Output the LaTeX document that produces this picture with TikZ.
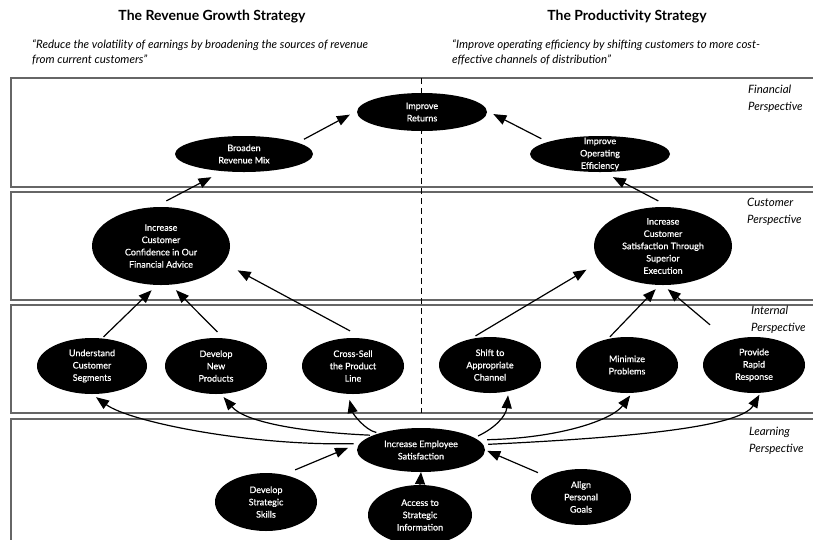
\documentclass[tikz,border=0pt]{standalone}
\usepackage{fontspec}
\setmainfont{Lato}
\newfontfamily\goalfont[FakeBold=0.6]{Lato}
\usetikzlibrary{shapes.geometric,arrows.meta}

\begin{document}
\begin{tikzpicture}[x=1pt,y=-1pt,
  goal/.style={ellipse, fill=black, text=white, align=center,
    inner xsep=0pt, inner ysep=-4pt, font=\goalfont\fontsize{9}{12.3}\selectfont},
  arr/.style={line width=1.2pt, -{Triangle[length=13pt,width=10pt]}},
  panel/.style={draw=black!60, line width=1.3pt},
  persp/.style={anchor=west, align=left, inner sep=0pt, font=\fontsize{11.5}{17}\selectfont\itshape},
  heading/.style={font=\fontsize{14}{16}\selectfont\bfseries},
  motto/.style={anchor=west, align=left, inner sep=0pt, font=\fontsize{11.5}{15}\selectfont\itshape}
]
\useasboundingbox (0,0) rectangle (813,539);

% perspective bands
\draw[panel] (11,78)  rectangle (830,187);
\draw[panel] (11,192) rectangle (830,300);
\draw[panel] (11,305) rectangle (830,413);
\draw[panel] (11,419) rectangle (830,560);

% divider between the two strategies
\draw[line width=0.8pt, dash pattern=on 6pt off 4pt] (421,78) -- (421,413);

% headings
\node[heading] (hrev) at (212,17) {The Revenue Growth Strategy};
\node[heading] (hpro) at (627,17) {The Productivity Strategy};
\node[motto] (mrev) at (32,52) {“Reduce the volatility of earnings by broadening the sources of revenue\\from current customers”};
\node[motto] (mpro) at (452,52) {“Improve operating efficiency by shifting customers to more cost-\\effective channels of distribution”};

% perspective labels
\node[persp] (lfin) at (748,99)  {Financial\\Perspective};
\node[persp] (lcus) at (747,212) {Customer\\Perspective};
\node[persp] (lint) at (751,320) {Internal\\Perspective};
\node[persp] (llrn) at (749,441) {Learning\\Perspective};

% financial
\node[goal, minimum width=130pt, minimum height=38pt] (ret) at (422,112) {Improve\\Returns};
\node[goal, minimum width=138pt, minimum height=36pt] (brm) at (244,154) {Broaden\\Revenue Mix};
\node[goal, minimum width=140pt, minimum height=36pt] (oe)  at (600,154) {Improve\\Operating\\Efficiency};

% customer
\node[goal, minimum width=138pt, minimum height=78pt] (ccf) at (161,246) {Increase\\Customer\\Confidence in Our\\Financial Advice};
\node[goal, minimum width=138pt, minimum height=78pt] (css) at (663,246) {Increase\\Customer\\Satisfaction Through\\Superior\\Execution};

% internal
\node[goal, minimum width=110pt, minimum height=56pt] (und) at (92,366)  {Understand\\Customer\\Segments};
\node[goal, minimum width=102pt, minimum height=56pt] (dnp) at (216,366) {Develop\\New\\Products};
\node[goal, minimum width=102pt, minimum height=56pt] (csl) at (353,366) {Cross-Sell\\the Product\\Line};
\node[goal, minimum width=102pt, minimum height=56pt] (shf) at (490,365) {Shift to\\Appropriate\\Channel};
\node[goal, minimum width=102pt, minimum height=56pt] (mnp) at (627,365) {Minimize\\Problems};
\node[goal, minimum width=102pt, minimum height=56pt] (pro) at (754,365) {Provide\\Rapid\\Response};

% learning
\node[goal, minimum width=128pt, minimum height=44pt] (emp) at (421,450) {Increase Employee\\Satisfaction};
\node[goal, minimum width=102pt, minimum height=58pt] (dss) at (266,502) {Develop\\Strategic\\Skills};
\node[goal, minimum width=104pt, minimum height=60pt] (acc) at (420,515) {Access to\\Strategic\\Information};
\node[goal, minimum width=100pt, minimum height=56pt] (apg) at (581,497) {Align\\Personal\\Goals};

% financial links
\draw[arr, shorten <=7pt, shorten >=8pt] (brm.12.6) -- (ret.179.5);
\draw[arr, shorten <=7pt, shorten >=7pt] (oe.167.8) -- (ret.1.1);

% customer to financial
\draw[arr, shorten <=13pt, shorten >=12.6pt] (ccf.99.9) -- (brm.219.6);
\draw[arr, shorten <=13pt, shorten >=10.6pt] (css.80.3) -- (oe.281.6);

% internal to customer
\draw[arr, shorten <=2pt,  shorten >=7.3pt] (und.70.8) -- (ccf.264.6);
\draw[arr, shorten <=8.7pt, shorten >=7.5pt] (dnp.75.7) -- (ccf.284.2);
\draw[arr, shorten <=16pt, shorten >=16pt] (csl.68.1) -- (ccf.345.5);
\draw[arr, shorten <=6pt,  shorten >=15.4pt] (shf.127.8) -- (css.194.9);
\draw[arr, shorten <=2.8pt, shorten >=5.6pt] (mnp.126) -- (css.265.5);
\draw[arr, shorten <=24.3pt, shorten >=6.2pt] (pro.136.6) -- (css.270.4);

% employee satisfaction to internal processes
\draw[arr, shorten <=6pt, shorten >=5pt] (emp.174) .. controls (250,446) and (130,422) .. (und.south);
\draw[arr, shorten <=3pt, shorten >=4pt] (emp.163) .. controls (300,432) and (245,422) .. (dnp.280);
\draw[arr, shorten <=3pt, shorten >=6pt] (emp.158) .. controls (365,430) and (353,414) .. (csl.260);
\draw[arr, shorten <=4pt, shorten >=4pt] (emp.13) .. controls (495,428) and (506,416) .. (shf.305);
\draw[arr, shorten <=9pt, shorten >=3pt] (emp.10) .. controls (560,438) and (612,420) .. (mnp.280);
\draw[arr, shorten <=5pt, shorten >=2pt] (emp.5) .. controls (620,438) and (740,428) .. (pro.283);

% enablers of employee satisfaction
\draw[arr, shorten <=12.3pt, shorten >=13.5pt] (dss.57.2) -- (emp.173.2);
\draw[arr, -{Triangle[length=12pt,width=10pt]}] (acc.north) -- (emp.south);
\draw[arr, shorten <=9.5pt, shorten >=2.2pt] (apg.149.2) -- (emp.0);
\end{tikzpicture}
\end{document}
